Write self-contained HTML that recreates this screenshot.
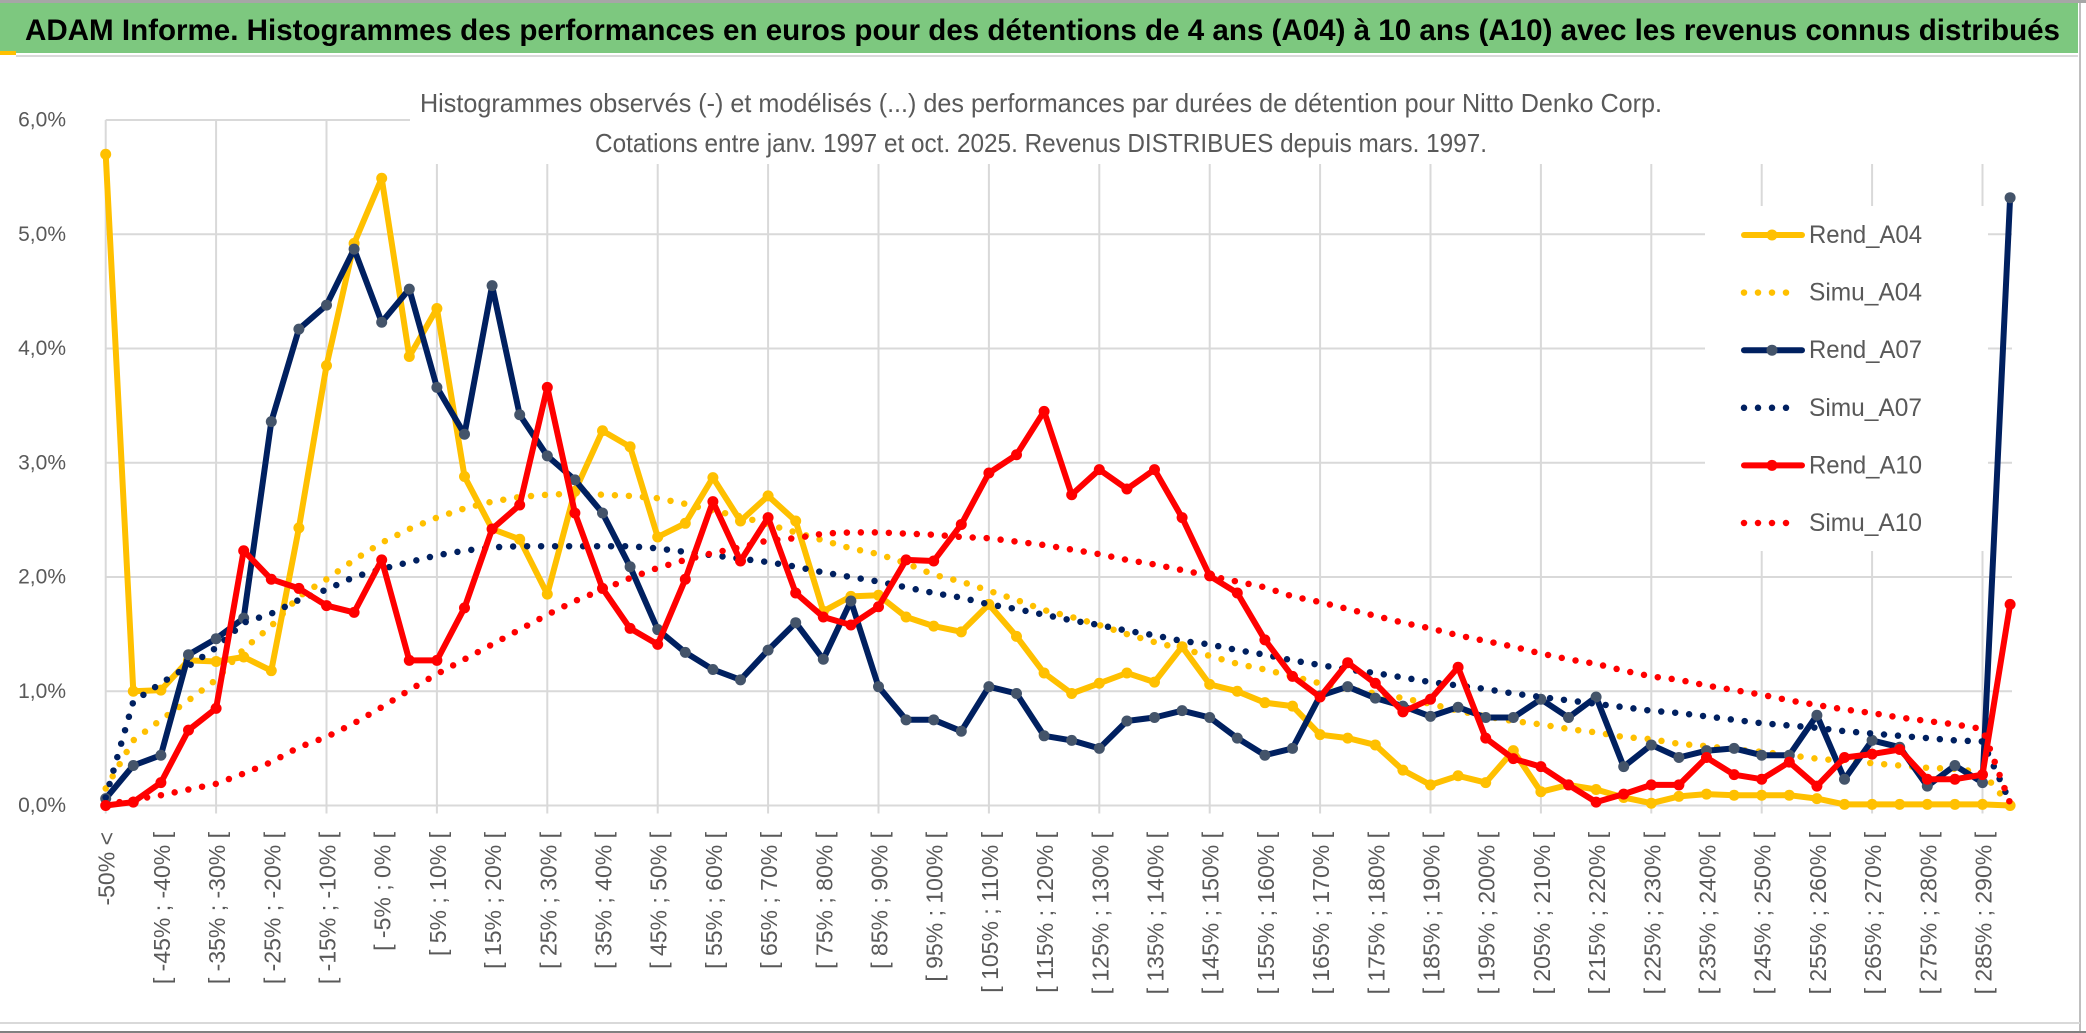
<!DOCTYPE html>
<html><head><meta charset="utf-8"><title>ADAM Informe</title>
<style>
html,body{margin:0;padding:0;background:#fff;}
svg{display:block;}
text{font-family:"Liberation Sans",sans-serif;}
</style></head>
<body>
<svg id="chart" width="2086" height="1033" viewBox="0 0 2086 1033" xmlns="http://www.w3.org/2000/svg">
  <rect x="0" y="0" width="2086" height="1033" fill="#ffffff"/>
  <rect x="0" y="0" width="2086" height="3" fill="#a6a6a6"/>
  <rect x="0" y="3" width="2078" height="50" fill="#7dc87f"/>
  <rect x="0" y="51" width="16" height="4" fill="#ffc000"/>
  <rect x="16" y="55" width="2062" height="2" fill="#d9d9d9"/>
  <text x="25" y="40" font-size="30" font-weight="bold" fill="#000" textLength="2035" lengthAdjust="spacingAndGlyphs">ADAM Informe. Histogrammes des performances en euros pour des détentions de 4 ans (A04) à 10 ans (A10) avec les revenus connus distribués</text>
  <rect x="2079" y="3" width="2" height="1030" fill="#bfbfbf"/>
  <rect x="0" y="1022" width="2080" height="2" fill="#d9d9d9"/>
  <rect x="0" y="1031" width="2086" height="2" fill="#808080"/>
  <g id="grid"></g>
  <g id="yaxis"></g>
  <g id="xaxis"></g>
  <g id="series"></g>
  <rect x="410" y="66" width="1610" height="98" fill="#ffffff"/>
  <text x="420" y="112" font-size="26" fill="#595959" textLength="1242" lengthAdjust="spacingAndGlyphs">Histogrammes observés (-) et modélisés (...) des performances par durées de détention pour Nitto Denko Corp.</text>
  <text x="595" y="152" font-size="26" fill="#595959" textLength="892" lengthAdjust="spacingAndGlyphs">Cotations entre janv. 1997 et oct. 2025. Revenus DISTRIBUES depuis mars. 1997.</text>
  <g id="legend"></g>
</svg>
<script>
const categories = [];
categories.push("-50% <");
for (let k = 1; k < 69; k++) categories.push("[ " + (-55 + 5 * k) + "% ; " + (-50 + 5 * k) + "% [");
categories.push("> 290%");

const yTicks = [0, 1, 2, 3, 4, 5, 6];
const yTickLabels = ["0,0%", "1,0%", "2,0%", "3,0%", "4,0%", "5,0%", "6,0%"];

const rendA04 = [5.70,1.00,1.01,1.27,1.26,1.30,1.18,2.43,3.85,4.92,5.49,3.93,4.35,2.88,2.42,2.33,1.85,2.75,3.28,3.14,2.35,2.47,2.87,2.49,2.71,2.49,1.70,1.83,1.84,1.65,1.57,1.52,1.76,1.48,1.16,0.98,1.07,1.16,1.08,1.39,1.06,1.00,0.90,0.87,0.62,0.59,0.53,0.31,0.18,0.26,0.20,0.48,0.12,0.18,0.14,0.07,0.02,0.08,0.10,0.09,0.09,0.09,0.06,0.01,0.01,0.01,0.01,0.01,0.01,0.00];
const simuA04 = [0.15,0.57,0.75,0.92,1.10,1.37,1.57,1.83,1.98,2.15,2.30,2.42,2.52,2.60,2.66,2.70,2.72,2.73,2.72,2.71,2.69,2.64,2.58,2.53,2.46,2.39,2.32,2.25,2.20,2.12,2.02,1.96,1.88,1.80,1.71,1.65,1.58,1.50,1.43,1.37,1.31,1.24,1.19,1.13,1.07,1.02,0.98,0.94,0.89,0.83,0.78,0.74,0.71,0.67,0.64,0.60,0.58,0.54,0.52,0.49,0.47,0.44,0.41,0.39,0.37,0.35,0.33,0.32,0.29,0.00];
const rendA07 = [0.06,0.35,0.44,1.32,1.46,1.64,3.36,4.17,4.38,4.87,4.23,4.52,3.66,3.25,4.55,3.42,3.06,2.85,2.56,2.09,1.54,1.34,1.19,1.10,1.36,1.60,1.28,1.79,1.04,0.75,0.75,0.65,1.04,0.98,0.61,0.57,0.50,0.74,0.77,0.83,0.77,0.59,0.44,0.50,0.96,1.04,0.94,0.87,0.78,0.86,0.77,0.77,0.93,0.77,0.95,0.34,0.53,0.42,0.48,0.50,0.44,0.44,0.79,0.23,0.57,0.51,0.17,0.35,0.20,5.32];
const simuA07 = [0.07,0.91,1.07,1.22,1.38,1.60,1.68,1.80,1.89,2.00,2.07,2.13,2.19,2.23,2.26,2.27,2.27,2.27,2.27,2.27,2.25,2.22,2.19,2.16,2.13,2.09,2.04,2.00,1.96,1.91,1.86,1.82,1.76,1.72,1.67,1.62,1.58,1.53,1.49,1.44,1.41,1.36,1.32,1.27,1.23,1.19,1.16,1.12,1.08,1.05,1.02,0.98,0.95,0.92,0.89,0.86,0.83,0.81,0.78,0.75,0.72,0.70,0.68,0.65,0.63,0.61,0.59,0.57,0.56,0.03];
const rendA10 = [0.00,0.03,0.20,0.66,0.85,2.23,1.98,1.90,1.75,1.69,2.15,1.27,1.27,1.73,2.42,2.63,3.66,2.56,1.90,1.55,1.41,1.98,2.66,2.14,2.52,1.86,1.65,1.58,1.74,2.15,2.14,2.46,2.91,3.07,3.45,2.72,2.94,2.77,2.94,2.52,2.01,1.86,1.45,1.13,0.95,1.25,1.07,0.82,0.93,1.21,0.59,0.41,0.34,0.18,0.03,0.10,0.18,0.18,0.42,0.27,0.23,0.38,0.17,0.42,0.45,0.49,0.23,0.23,0.27,1.76];
const simuA10 = [0.01,0.05,0.09,0.14,0.19,0.28,0.38,0.51,0.60,0.72,0.86,1.01,1.15,1.28,1.41,1.54,1.67,1.79,1.89,1.99,2.08,2.15,2.21,2.26,2.32,2.34,2.38,2.39,2.39,2.38,2.37,2.35,2.34,2.31,2.28,2.24,2.20,2.15,2.11,2.06,2.01,1.96,1.91,1.83,1.78,1.72,1.66,1.60,1.55,1.49,1.44,1.39,1.33,1.28,1.24,1.18,1.13,1.10,1.05,1.01,0.97,0.92,0.88,0.84,0.81,0.77,0.74,0.71,0.67,0.02];

const seriesNames = ["Rend_A04","Simu_A04","Rend_A07","Simu_A07","Rend_A10","Simu_A10"];

const NS = "http://www.w3.org/2000/svg";
const plotLeft = 105.7, plotRight = 2012, firstX = 105.7, lastX = 2010.1;
const yZero = 805.5, yTop = 120, yMax = 6;
function xPos(i) { return firstX + i * (lastX - firstX) / (categories.length - 1); }
function yPos(v) { return yZero - v * (yZero - yTop) / yMax; }
function mk(tag, attrs, parent) {
  const el = document.createElementNS(NS, tag);
  for (const k in attrs) el.setAttribute(k, attrs[k]);
  parent.appendChild(el);
  return el;
}

const grid = document.getElementById("grid");
yTicks.forEach((t) => {
  const ln = mk("line", {x1: plotLeft, x2: plotRight, y1: yPos(t), y2: yPos(t), stroke: "#d9d9d9", "stroke-width": 2}, grid);
  
  
});
for (let i = 0; i < categories.length; i += 4) {
  const ln = mk("line", {x1: xPos(i), x2: xPos(i), y1: yTop, y2: yZero + 8, stroke: "#d9d9d9", "stroke-width": 2}, grid);
  
  
}

const yaxis = document.getElementById("yaxis");
yTicks.forEach((t, j) => {
  const tx = mk("text", {x: 66, y: yPos(t), "font-size": 21, fill: "#595959", "text-anchor": "end", "dominant-baseline": "central"}, yaxis);
  tx.textContent = yTickLabels[j];
  
  
});

const xaxis = document.getElementById("xaxis");
for (let i = 0; i < categories.length - 1; i += 2) {
  const x = xPos(i) + 1;
  const tx = mk("text", {x: 0, y: 0, "font-size": 23, fill: "#595959", "text-anchor": "end", "dominant-baseline": "central", transform: "translate(" + x + ",832) rotate(-90)"}, xaxis);
  tx.textContent = categories[i];
  
  
}

const series = document.getElementById("series");
function pts(arr) { return arr.map((v, i) => xPos(i).toFixed(1) + "," + yPos(v).toFixed(1)).join(" "); }
function drawRend(arr, color, markerColor, name) {
  const g = mk("g", {}, series);
  
  
  const pl = mk("polyline", {points: pts(arr), fill: "none", stroke: color, "stroke-width": 6, "stroke-linejoin": "round", "stroke-linecap": "round"}, g);
  
  
  arr.forEach((v, i) => {
    const c = mk("circle", {cx: xPos(i), cy: yPos(v), r: 5.5, fill: markerColor}, g);
    
    
  });
}
function drawSimu(arr, color, name) {
  const pl = mk("polyline", {points: pts(arr), fill: "none", stroke: color, "stroke-width": 6.5, "stroke-dasharray": "0 14", "stroke-linecap": "round", "stroke-linejoin": "round"}, series);
  
  
}
drawRend(rendA04, "#ffc000", "#ffc000", "rend-a04-series");
drawSimu(simuA04, "#ffc000", "simu-a04-series");
drawRend(rendA07, "#002060", "#44546a", "rend-a07-series");
drawSimu(simuA07, "#002060", "simu-a07-series");
drawRend(rendA10, "#ff0000", "#ff0000", "rend-a10-series");
drawSimu(simuA10, "#ff0000", "simu-a10-series");

const legend = document.getElementById("legend");
const bg = mk("rect", {x: 1705, y: 206, width: 283, height: 345, fill: "#ffffff"}, legend);


const legColors = ["#ffc000","#ffc000","#002060","#002060","#ff0000","#ff0000"];
const legMarkers = ["#ffc000","#ffc000","#44546a","#44546a","#ff0000","#ff0000"];
seriesNames.forEach((nm, j) => {
  const y = 235 + j * 57.6;
  const g = mk("g", {}, legend);
  
  
  if (j % 2 === 0) {
    mk("line", {x1: 1744, x2: 1802, y1: y, y2: y, stroke: legColors[j], "stroke-width": 6, "stroke-linecap": "round"}, g);
    mk("circle", {cx: 1772, cy: y, r: 5.5, fill: legMarkers[j]}, g);
  } else {
    mk("line", {x1: 1744, x2: 1792, y1: y, y2: y, stroke: legColors[j], "stroke-width": 6.5, "stroke-dasharray": "0 14", "stroke-linecap": "round"}, g);
  }
  const tx = mk("text", {x: 1809, y: y, "font-size": 25, fill: "#595959", "dominant-baseline": "central", textLength: 113, lengthAdjust: "spacingAndGlyphs"}, g);
  tx.textContent = nm;
  
  
});
</script>
</body></html>
